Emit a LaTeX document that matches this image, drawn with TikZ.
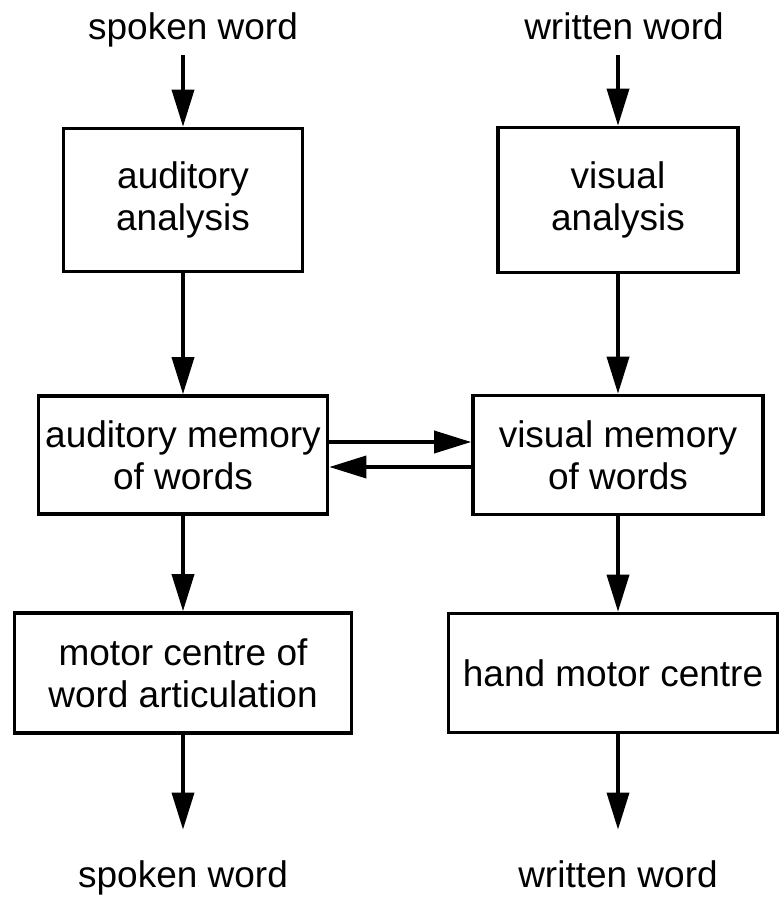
\documentclass[tikz,border=0pt]{standalone}
\usepackage{fontspec}
\setmainfont{Liberation Sans}
\usetikzlibrary{arrows.meta}

\begin{document}
\begin{tikzpicture}[x=0.5pt,y=-0.5pt,
	box/.style={draw,line width=1.8pt,inner sep=0pt,align=center,font=\fontsize{18.5pt}{21pt}\selectfont},
	word/.style={inner sep=0pt,text height=13pt,text depth=4pt,font=\fontsize{18.5pt}{21pt}\selectfont},
	flow/.style={line width=1.8pt,-{Triangle[length=18.5pt,width=11pt]}}]
			%%%%% START %%%%%
			
			\useasboundingbox (0,0) rectangle (780,898);
			
			\node[word,anchor=base] (spokenin) at (193,40) {spoken word};
			\node[word,anchor=base] (writtenin) at (624,40) {written word};
			
			\node[box,minimum width=119.5pt,minimum height=71.5pt] (aa) at (183,200) {auditory\\analysis};
			\node[box,minimum width=120pt,minimum height=72.5pt] (va) at (618,200) {visual\\analysis};
			
			\node[box,minimum width=144.5pt,minimum height=59pt] (am) at (183,455) {auditory memory\\of words};
			\node[box,minimum width=145pt,minimum height=59.5pt] (vm) at (618,455) {visual memory\\of words};
			
			\node[box,minimum width=168.5pt,minimum height=60pt] (mc) at (183,673) {motor centre of\\word articulation};
			\node[box,minimum width=164.5pt,minimum height=59.5pt] (hm) at (613,673) {hand motor centre};
			
			\node[word,anchor=base] (spokenout) at (183,887) {spoken word};
			\node[word,anchor=base] (writtenout) at (618,887) {written word};
			
			\draw[flow,shorten <=3.5pt] (aa.north |- spokenin.south) -- (aa);
			\draw[flow] (aa) -- (am);
			\draw[flow] (am) -- (mc);
			\draw[flow,shorten >=15.5pt] (mc) -- (spokenout);
			
			\draw[flow,shorten <=3.5pt] (va.north |- writtenin.south) -- (va);
			\draw[flow] (va) -- (vm);
			\draw[flow] (vm) -- (hm.north -| vm.south);
			\draw[flow,shorten >=15.5pt] (hm.south -| vm.south) -- (writtenout);
			
			\draw[flow] ([yshift=6.5pt]am.east) -- ([yshift=6.5pt]vm.west);
			\draw[flow] ([yshift=-6pt]vm.west) -- ([yshift=-6pt]am.east);
			
			%%%%% END %%%%%
		\end{tikzpicture}
\end{document}
